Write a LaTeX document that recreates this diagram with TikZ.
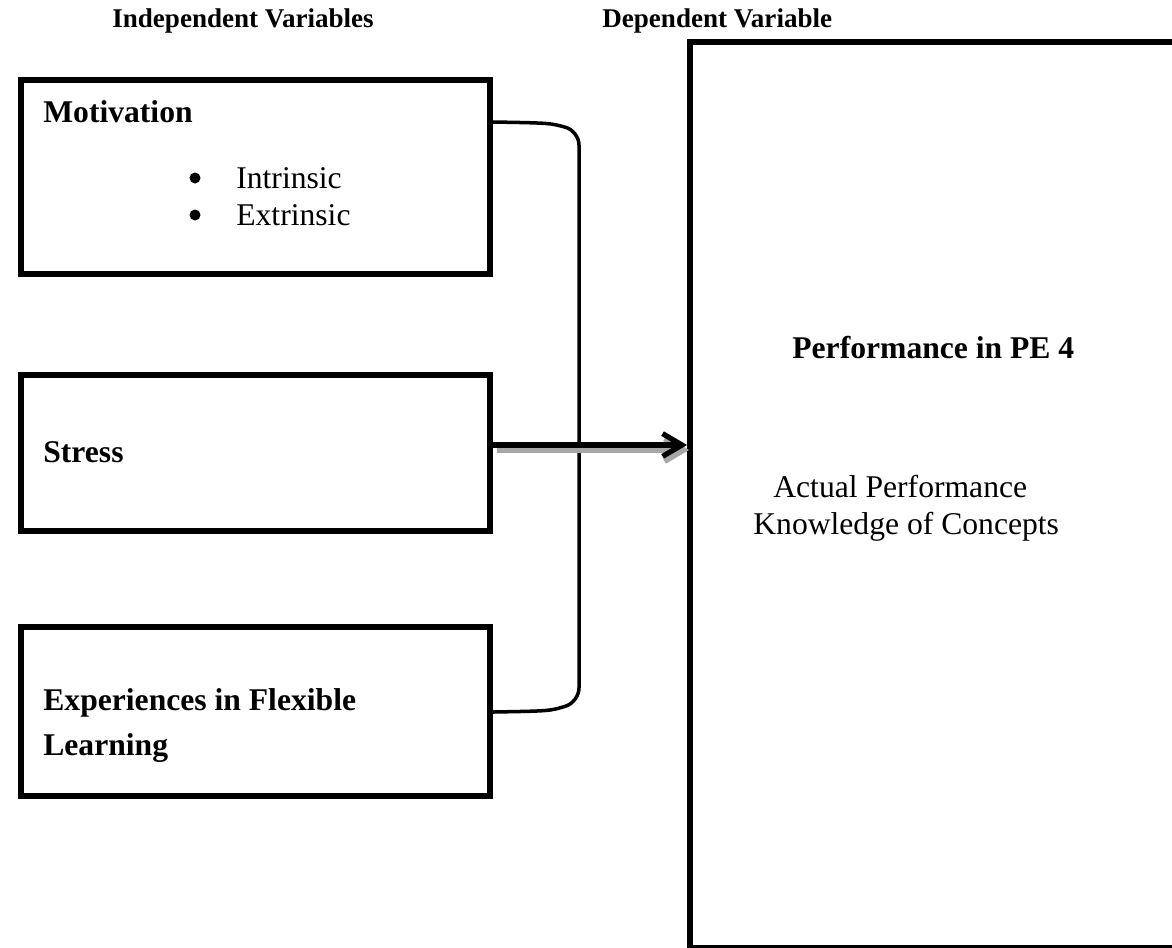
\documentclass[tikz,border=0pt]{standalone}
\usepackage{fontspec}
\setmainfont{Liberation Serif}
\usetikzlibrary{arrows.meta}

\begin{document}
\begin{tikzpicture}[x=0.02cm,y=-0.02cm,
    varbox/.style={draw,line width=3.4pt,minimum width=9.38cm,inner sep=0pt},
    head/.style={font=\bfseries\fontsize{15.4}{18}\selectfont,anchor=base west,inner sep=0pt},
    title/.style={font=\bfseries\fontsize{18}{25.6}\selectfont,anchor=base west,inner sep=0pt,align=left},
    item/.style={font=\fontsize{18}{21}\selectfont,anchor=base west,inner sep=0pt},
    dot/.style={circle,fill,inner sep=0pt,minimum size=0.22cm},
    bracket/.style={line width=2pt,rounded corners=8pt},
    mainarrow/.style={line width=3pt,-{Straight Barb[length=11pt,width=13pt]}},
    arrowshadow/.style={mainarrow,gray!70}]
    \useasboundingbox (0,0) rectangle (1172,947);

    % headings
    \node[head] (indep) at (112,27) {Independent Variables};
    \node[head] (dep) at (602,27) {Dependent Variable};

    % independent variables
    \node[varbox,minimum height=3.88cm] (motiv) at (255.5,177) {};
    \node[varbox,minimum height=3.12cm] (stress) at (255.5,453) {};
    \node[varbox,minimum height=3.38cm] (exper) at (255.5,711.5) {};

    \node[title] (motivtxt) at (43,122) {Motivation};
    \foreach \y/\txt in {188/Intrinsic, 225/Extrinsic}{
    \node[dot] at (195,\y-10) {};
    \node[item] at (236,\y) {\txt};
    }
    \node[title] (stresstxt) at (43,462) {Stress};
    \node[title] (expertxt) at (43,755) {Experiences in Flexible\\Learning};

    % dependent variable
    \node[draw,line width=3.4pt,minimum width=9.8cm,minimum height=18.12cm] (perf) at (935,495) {};
    \node[title] (perftxt) at (792,358) {Performance in PE 4};
    \node[item] (actual) at (773,497) {Actual Performance};
    \node[item] (know) at (753,534) {Knowledge of Concepts};

    % connectors
    \draw[bracket] (motiv.east |- 0,122) .. controls (550,123) .. (579,131) -- (579,702) .. controls (550,711) .. (exper.east |- 0,712);
    \draw[arrowshadow] ([shift={(4,5)}]stress.east |- 0,445) -- ([shift={(2,5)}]perf.west |- 0,445);
    \draw[mainarrow] (stress.east |- 0,445) -- (perf.west |- 0,445);
\end{tikzpicture}
\end{document}
